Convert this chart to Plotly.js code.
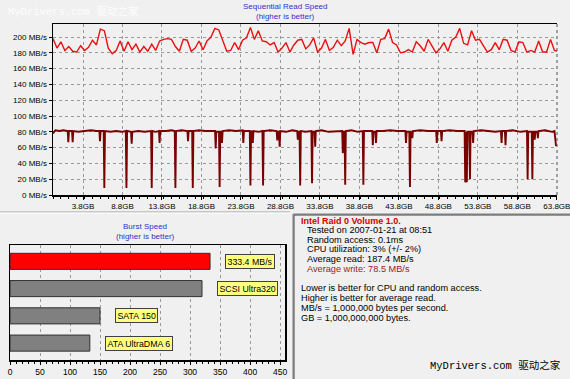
<!DOCTYPE html>
<html>
<head>
<meta charset="utf-8">
<script src="https://cdn.plot.ly/plotly-3.0.1.min.js"></script>
<style>html,body{margin:0;padding:0;background:#f0f0f0;}#chart{width:570px;height:379px;}</style>
</head>
<body>
<div id="chart"></div>
<script>
// Sequential read speed (MB/s), sampled every 0.5 GB starting at 0 GB
const readSpeed = [
  198,186,194,183,188,182,181,189,183,187,
  196,190,210,208,186,179,183,195,182,194,
  184,191,181,188,182,191,183,195,197,198,
  197,188,182,197,196,182,186,195,184,195,
  200,211,209,196,182,183,193,184,196,199,
  212,197,208,195,194,190,193,181,186,193,
  181,190,196,197,185,190,199,181,186,197,
  183,187,196,189,195,211,178,197,193,191,
  193,193,180,197,198,210,193,190,180,181,
  184,181,194,189,182,197,188,180,185,193,
  182,196,200,211,192,190,208,196,197,189,
  181,184,193,184,197,196,183,181,194,193,
  181,183,181,195,181,181,197,183,182
];

// Write speed trace (GB position, MB/s)
const writeGB = [
  0.0,0.3,0.8,1.3,1.86,1.94,2.02,2.41,2.49,2.57,3.2,4.0,4.8,5.5,5.87,5.95,6.03,6.42,6.5,6.58,
  7.3,8.0,8.7,9.22,9.3,9.38,9.88,9.96,10.04,10.8,11.6,12.42,12.5,12.58,13.0,13.42,13.5,13.58,14.3,15.0,
  15.42,15.5,15.58,16.3,17.02,17.1,17.18,17.62,17.7,17.78,18.5,19.3,20.0,20.52,20.6,20.68,21.02,21.1,21.18,21.32,
  21.4,21.48,22.3,23.2,24.02,24.1,24.18,24.92,25.0,25.08,25.22,25.3,25.38,26.0,26.52,26.6,26.68,27.5,28.32,28.4,
  28.48,28.62,28.7,28.78,29.5,30.3,30.92,31.0,31.08,31.22,31.3,31.38,32.0,32.72,32.8,32.88,33.12,33.2,33.28,34.0,
  34.9,35.8,36.62,36.7,36.78,36.92,37.0,37.08,37.8,38.6,39.22,39.3,39.38,40.0,40.42,40.5,40.58,40.82,40.9,40.98,
  41.8,42.7,43.6,44.62,44.7,44.78,45.12,45.2,45.28,45.42,45.5,45.58,46.5,47.5,48.52,48.6,48.68,49.12,49.2,49.28,
  50.2,51.2,52.12,52.2,52.28,52.32,52.4,52.48,52.72,52.8,52.88,53.12,53.2,53.28,54.2,55.2,56.0,56.72,56.8,56.88,
  57.22,57.3,57.38,58.2,59.2,60.02,60.1,60.18,60.62,60.7,60.78,60.92,61.0,61.08,61.32,61.4,61.48,62.3,63.2,63.5,
  63.7
];
const writeSpeed = [
  78,82,81,82,81,67,81,81,67,81,80,81,82,81,81,68,81,81,9,81,
  80,81,80,81,9,81,80,65,80,81,80,81,9,81,80,81,66,81,81,82,
  81,9,81,82,81,68,81,81,9,81,82,81,81,81,59,80,80,10,80,80,
  66,81,82,81,82,66,81,81,12,81,80,66,81,80,81,12,81,82,81,69,
  80,80,61,81,80,82,81,70,80,80,12,81,80,81,15,80,80,61,81,82,
  80,81,81,53,80,80,13,81,82,80,81,13,81,81,81,63,80,80,66,81,
  81,82,81,81,66,80,80,10,80,80,72,81,82,81,81,66,81,81,68,81,
  82,81,81,16,80,80,16,80,80,20,80,80,66,81,82,81,80,81,66,81,
  81,63,81,82,80,81,20,80,80,20,80,80,70,80,80,72,81,82,80,81,
  62
];

// Burst speed
const burstNames  = ['Intel Raid 0 Volume 1.0', 'SCSI Ultra320', 'SATA 150', 'ATA UltraDMA 6'];
const burstValues = [333.4, 320, 150, 133];
const burstLabels = ['333.4 MB/s', 'SCSI Ultra320', 'SATA 150', 'ATA UltraDMA 6'];

// Info panel text
const infoTitle = 'Intel Raid 0 Volume 1.0.';
const infoLines = ['Tested on 2007-01-21 at 08:51', 'Random access: 0.1ms', 'CPU utilization: 3% (+/- 2%)', 'Average read: 187.4 MB/s'];
const infoWrite = 'Average write: 78.5 MB/s';
const notes = ['Lower is better for CPU and random access.', 'Higher is better for average read.', 'MB/s = 1,000,000 bytes per second.', 'GB = 1,000,000,000 bytes.'];

const W = 570, H = 379;
const px = v => v / W;
const py = v => 1 - v / H;
const FONT = 'Liberation Sans, Arial, sans-serif';

const traces = [
  {type:'scatter', mode:'lines', x0:0, dx:0.5, y:readSpeed, xaxis:'x', yaxis:'y',
   line:{color:'#e81010', width:1.4}, hoverinfo:'skip'},
  {type:'scatter', mode:'lines', x:writeGB, y:writeSpeed, xaxis:'x', yaxis:'y',
   line:{color:'#7a0000', width:1.9}, hoverinfo:'skip'},
  {type:'bar', orientation:'h', x:burstValues, y:burstNames, xaxis:'x2', yaxis:'y2', width:0.59,
   marker:{color:['#ff0000','#808080','#808080','#808080'], line:{color:'#303030', width:1}}, hoverinfo:'skip'}
];

const annotations = [];
function txt(t, x, y, opts) {
  annotations.push(Object.assign({text:t, xref:'paper', yref:'paper', x:px(x), y:py(y), showarrow:false,
    xanchor:'left', yanchor:'middle', font:{family:FONT, size:8, color:'#000'}}, opts || {}));
}
txt('Sequential Read Speed', 285, 6, {xanchor:'center', font:{family:FONT, size:8, color:'#3030c8'}});
txt('(higher is better)', 285, 16.5, {xanchor:'center', font:{family:FONT, size:8, color:'#3030c8'}});
txt('Burst Speed', 145, 226, {xanchor:'center', font:{family:FONT, size:8, color:'#3030c8'}});
txt('(higher is better)', 145, 236.5, {xanchor:'center', font:{family:FONT, size:8, color:'#3030c8'}});

txt('<b>' + infoTitle + '</b>', 299, 220.5, {font:{family:FONT, size:9, color:'#d00000'}});
const infoY = [230, 239.7, 249.4, 259.1];
infoLines.forEach((t, i) => txt(t, 304.5, infoY[i], {font:{family:FONT, size:9.2, color:'#000'}}));
txt(infoWrite, 304.5, 268.8, {font:{family:FONT, size:9.2, color:'#a02020'}});
const noteY = [288, 298, 308, 318];
notes.forEach((t, i) => txt(t, 299, noteY[i], {font:{family:FONT, size:9.2, color:'#000'}}));

txt('MyDrivers.com 驱动之家', 6, 11.5, {font:{family:'Liberation Mono, Noto Sans CJK SC, monospace', size:10.5, color:'rgba(255,255,255,0.9)'}});
txt('MyDrivers.com 驱动之家', 428, 365, {font:{family:'Liberation Mono, Noto Sans CJK SC, monospace', size:10.5, color:'#000'}});

burstValues.forEach((v, i) => {
  annotations.push({text:burstLabels[i], xref:'x2', yref:'y2', x:v, y:burstNames[i], showarrow:false,
    xanchor:'left', yanchor:'middle', xshift:15, bgcolor:'#ffff80', bordercolor:'#404040', borderwidth:1, borderpad:1.5,
    font:{family:FONT, size:8.8, color:'#000'}});
});

const shapes = [
  {type:'line', xref:'paper', yref:'paper', x0:px(557), x1:px(557), y0:py(24), y1:py(195), line:{color:'#505050', width:1, dash:'dot'}},
  {type:'line', xref:'paper', yref:'paper', x0:0, x1:px(290), y0:py(212), y1:py(212), line:{color:'#a0a0a0', width:1}},
  {type:'line', xref:'paper', yref:'paper', x0:0, x1:px(290), y0:py(213), y1:py(213), line:{color:'#ffffff', width:1}},
  {type:'rect', xref:'paper', yref:'paper', x0:px(293), x1:px(580), y0:py(214), y1:py(390), line:{color:'#808080', width:1}},
  {type:'rect', xref:'paper', yref:'paper', x0:px(294), x1:px(580), y0:py(215), y1:py(390), line:{color:'#404040', width:1}}
];

const layout = {
  width:W, height:H, margin:{l:0, r:0, t:0, b:0},
  paper_bgcolor:'#f0f0f0', plot_bgcolor:'#f0f0f0', showlegend:false,
  font:{family:FONT, size:8, color:'#000'},
  xaxis:{domain:[px(53), px(557)], anchor:'y', range:[0, 63.82], tick0:3.8, dtick:5, tickformat:'.1f', ticksuffix:'GB',
    ticklabeloverflow:'allow',
    showgrid:true, gridcolor:'#9a9a9a', griddash:'dot', gridwidth:1, zeroline:false,
    showline:true, linecolor:'#000', linewidth:1.5, mirror:true,
    ticks:'outside', ticklen:3, tickcolor:'#000',
    minor:{dtick:1, ticks:'outside', ticklen:2, tickcolor:'#000', showgrid:false},
    tickfont:{family:FONT, size:8, color:'#000'}},
  yaxis:{domain:[py(195), py(24)], anchor:'x', range:[0, 216.5], dtick:20, ticksuffix:' MB/s',
    showgrid:true, gridcolor:'#9a9a9a', griddash:'dot', gridwidth:1, zeroline:false,
    showline:true, linecolor:'#000', linewidth:1.5,
    ticks:'outside', ticklen:3, tickcolor:'#000',
    tickfont:{family:FONT, size:8, color:'#000'}},
  xaxis2:{domain:[px(10), px(285)], anchor:'y2', range:[0, 458.3], dtick:50,
    showgrid:true, gridcolor:'#9a9a9a', griddash:'dot', gridwidth:1, zeroline:false,
    showline:true, linecolor:'#000', linewidth:1.5, mirror:true,
    ticks:'outside', ticklen:3, tickcolor:'#000',
    minor:{dtick:10, ticks:'outside', ticklen:2, tickcolor:'#000', showgrid:false},
    tickfont:{family:FONT, size:8.5, color:'#000'}},
  yaxis2:{domain:[py(360), py(245)], anchor:'x2', type:'category', categoryorder:'array', categoryarray:burstNames,
    range:[3.62, -0.6], showticklabels:false, showgrid:false, zeroline:false,
    showline:true, linecolor:'#000', linewidth:1.5, mirror:true, ticks:''},
  annotations:annotations, shapes:shapes
};

Plotly.newPlot('chart', traces, layout, {staticPlot:true, displayModeBar:false});
</script>
</body>
</html>
